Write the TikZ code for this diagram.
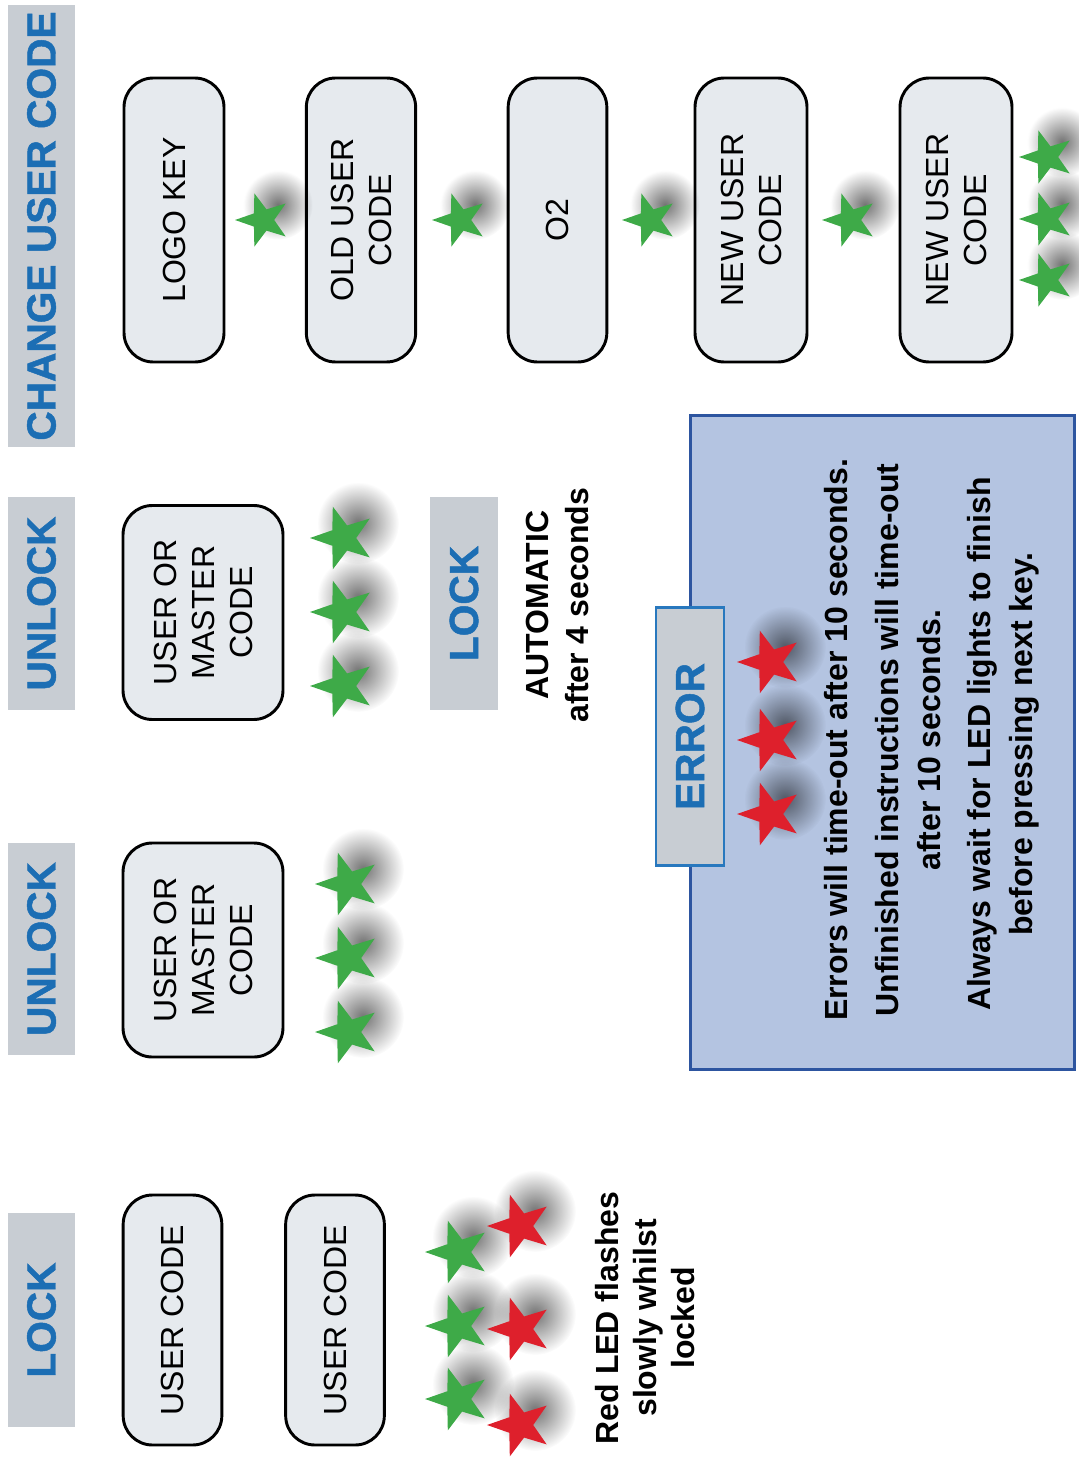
\documentclass[tikz,border=0pt]{standalone}
\usepackage{fontspec}
\setmainfont{Liberation Sans}
\usetikzlibrary{shapes.geometric,fadings}
\definecolor{hdrgray}{RGB}{200,205,211}
\definecolor{hdrblue}{RGB}{28,110,180}
\definecolor{boxfill}{RGB}{230,234,238}
\definecolor{ledgreen}{RGB}{62,170,72}
\definecolor{ledred}{RGB}{222,32,44}
\definecolor{panelfill}{RGB}{180,196,225}
\definecolor{panelborder}{RGB}{45,85,160}
\definecolor{tabborder}{RGB}{40,120,190}
\tikzfading[name=softglow, inner color=transparent!0, outer color=transparent!100]
\def\starlist{lg1/458/1252/ledgreen/49.5pt, lg2/458/1326/ledgreen/49.5pt, lg3/458/1399/ledgreen/49.5pt,
  lr1/520/1226/ledred/49.5pt, lr2/520/1329/ledred/49.5pt, lr3/520/1425/ledred/49.5pt,
  ua1/348/884/ledgreen/49.5pt, ua2/348/958/ledgreen/49.5pt, ua3/348/1032/ledgreen/49.5pt,
  ub1/343/538/ledgreen/49.5pt, ub2/343/612/ledgreen/49.5pt, ub3/343/686/ledgreen/49.5pt,
  c1/263/220/ledgreen/42pt, c2/460/220/ledgreen/42pt, c3/650/220/ledgreen/42pt, c4/850/220/ledgreen/42pt,
  c5/1047/157/ledgreen/42pt, c6/1047/219/ledgreen/42pt, c7/1047/280/ledgreen/42pt,
  er1/770/662/ledred/49.5pt, er2/770/740/ledred/49.5pt, er3/770/814/ledred/49.5pt}
\begin{document}
\begin{tikzpicture}[x=0.75pt,y=-0.75pt,
  hdr/.style={rotate=90, fill=hdrgray, text=hdrblue, font=\bfseries\fontsize{30.5}{30.5}\selectfont\addfontfeature{FakeBold=1.2}, inner sep=0pt},
  keybox/.style={rotate=90, draw=black, line width=2.2pt, fill=boxfill, rounded corners=22pt, align=center, font=\fontsize{24}{28.5}\selectfont, inner sep=0pt},
  led/.style={star, star points=5, star point ratio=2.5, shape border rotate=90, inner sep=0pt, minimum size=#1, draw=none},
  note/.style={rotate=90, align=center, font=\bfseries\fontsize{24}{28.5}\selectfont, inner sep=0pt},
  errtxt/.style={rotate=90, align=center, font=\bfseries\fontsize{24}{31.5}\selectfont, inner sep=0pt}]
\useasboundingbox (0,0) rectangle (1078,1458);
% ---- error panel
\node[draw=panelborder, line width=2.2pt, fill=panelfill, minimum width=288.5pt, minimum height=491pt, inner sep=0pt] (panel) at (882.5,742.5) {};
\node[hdr, draw=tabborder, line width=2.2pt, minimum width=194pt, minimum height=51pt] (tab) at (690,736.5) {ERROR};
% ---- headers
\node[hdr, minimum width=161pt, minimum height=50pt] (hLock) at (41.5,1320) {LOCK};
\node[hdr, minimum width=159pt, minimum height=50pt] (hUnlockA) at (41.5,949) {UNLOCK};
\node[hdr, minimum width=160pt, minimum height=50pt] (hUnlockB) at (41.5,603.5) {UNLOCK};
\node[hdr, minimum width=160pt, minimum height=51pt] (hLockB) at (464,603.5) {LOCK};
\node[hdr, minimum width=331.5pt, minimum height=50pt] (hChange) at (41.5,226) {CHANGE USER CODE};
% ---- key boxes
\node[keybox, minimum width=187.5pt, minimum height=74pt] (uc1) at (172.5,1320) {USER CODE};
\node[keybox, minimum width=187.5pt, minimum height=74pt] (uc2) at (335,1320) {USER CODE};
\node[keybox, minimum width=160.5pt, minimum height=120pt] (umA) at (203,950) {USER OR\\MASTER\\CODE};
\node[keybox, minimum width=160.5pt, minimum height=120pt] (umB) at (203,612.5) {USER OR\\MASTER\\CODE};
\node[keybox, minimum width=213pt, minimum height=75pt] (logo) at (174,220) {LOGO KEY};
\node[keybox, minimum width=213pt, minimum height=82pt] (old) at (361,220) {OLD USER\\CODE};
\node[keybox, minimum width=213pt, minimum height=74pt] (otwo) at (557.5,220) {O2};
\node[keybox, minimum width=213pt, minimum height=84pt] (new1) at (751,220) {NEW USER\\CODE};
\node[keybox, minimum width=213pt, minimum height=84pt] (new2) at (956,220) {NEW USER\\CODE};
% ---- star shadows, then stars
\foreach \n/\x/\y/\c/\s in \starlist {
  \fill[black, opacity=0.55, path fading=softglow] (\x+15,\y-15) circle ({0.62*\s});
}
\foreach \n/\x/\y/\c/\s in \starlist {
  \node[led=\s, fill=\c] (\n) at (\x,\y) {};
}
% ---- texts
\node[note] (redled) at (645,1318) {Red LED flashes\\slowly whilst\\locked};
\node[note, font=\bfseries\fontsize{24}{30}\selectfont] (auto) at (557,605) {AUTOMATIC\\after 4 seconds};
\node[errtxt] (e1) at (836,740) {Errors will time-out after 10 seconds.};
\node[errtxt] (e2) at (908,740) {Unfinished instructions will time-out\\after 10 seconds.};
\node[errtxt] (e3) at (1003,744) {Always wait for LED lights to finish\\before pressing next key.};
\end{tikzpicture}
\end{document}
